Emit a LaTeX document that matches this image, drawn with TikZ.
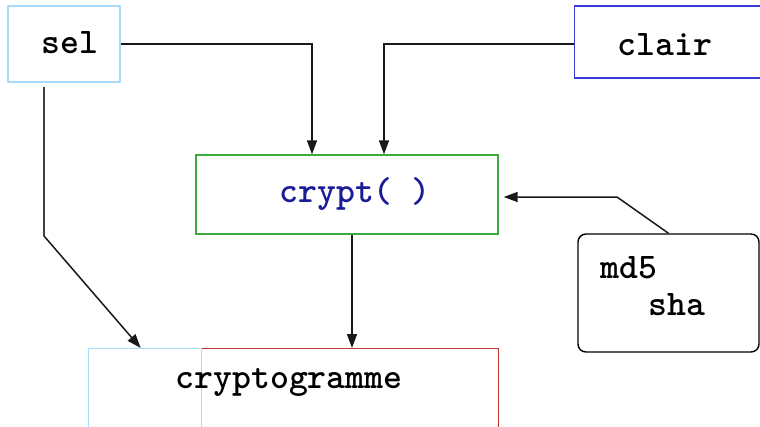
\documentclass[tikz,border=0pt]{standalone}
\usepackage{fontspec}
\usetikzlibrary{arrows.meta}
\definecolor{lblue}{HTML}{A8DAFA}
\definecolor{cblue}{HTML}{3C3CD8}
\definecolor{cgreen}{HTML}{3CAA3C}
\definecolor{cred}{HTML}{C03434}
\definecolor{navy}{HTML}{1C1C96}
\tikzset{
  box/.style={draw, line width=1.4pt, inner sep=0pt},
  txt/.style={inner sep=0pt, font=\ttfamily\bfseries\fontsize{36}{40}\selectfont},
  arr/.style={draw=black!90, line width=1.5pt, -{Triangle[length=14pt,width=10pt]}},
  ln/.style={draw=black!75, line width=1.5pt}
}
\begin{document}
\begin{tikzpicture}[x=1pt,y=-1pt]
\useasboundingbox (0,0) rectangle (760,426);
\fill[white] (0,0) rectangle (760,426);
% boxes
\node[box, draw=lblue, minimum width=112pt, minimum height=76pt] (sel) at (64,44) {};
\node[txt] (seltxt) at (70,43) {sel};
\node[box, draw=cblue, minimum width=190pt, minimum height=72pt, anchor=west] (clair) at (574,42) {};
\node[txt] (clairtxt) at (665,45) {clair};
\node[box, draw=cgreen, minimum width=302pt, minimum height=79pt] (crypt) at (347,194.5) {};
\node[txt, text=navy] (crypttxt) at (355,194) {crypt(~)};
\node[box, draw=black, rounded corners=8pt, minimum width=181pt, minimum height=118pt] (hash) at (668.5,293) {};
\node[txt, anchor=base west] (md5) at (600,278) {md5};
\node[txt, anchor=base west] (sha) at (648,315) {sha};
\node[box, draw=cred, minimum width=297pt, minimum height=90pt, anchor=north west] (res) at (201,348) {};
\node[box, draw=lblue, minimum width=113pt, minimum height=90pt, anchor=north west] (salt) at (88,348) {};
\node[txt] (restxt) at (289,383) {cryptogramme};
% connectors
\coordinate (b1) at (44,236);
\coordinate (b2) at (617,197);
\draw[arr] (sel.east) -| ([xshift=-35pt]crypt.north);
\draw[arr] ([yshift=-2pt]clair.west) -| ([xshift=37pt]crypt.north);
\draw[ln] ([xshift=-20pt,yshift=-4pt]sel.south) -- (b1);
\draw[arr] (b1) -- ([xshift=-4.5pt]salt.north);
\draw[arr] ([xshift=5pt]crypt.south) -- ([xshift=5pt]crypt.south |- res.north);
\draw[arr] (hash.north) -- (b2) -- ([xshift=5pt,yshift=-2.5pt]crypt.east);
\end{tikzpicture}
\end{document}
